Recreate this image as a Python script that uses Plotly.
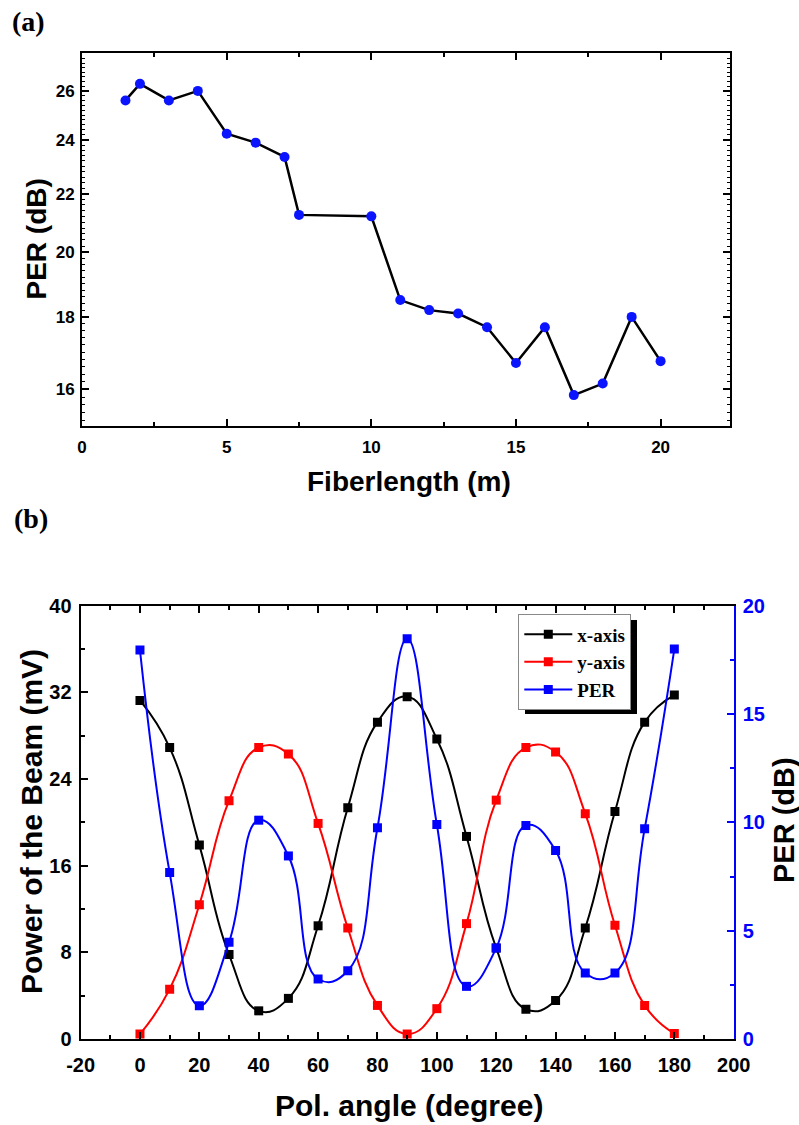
import numpy as np
import plotly.graph_objects as go

# ---------------- data ----------------
fiber_len = [1.5, 2, 3, 4, 5, 6, 7, 7.5, 10, 11, 12, 13, 14, 15, 16, 17, 18, 19, 20]
per_fiber = [25.6, 26.3, 25.6, 26.0, 24.25, 23.9, 23.35, 21.25, 21.2, 18.5, 18.2,
             18.1, 17.7, 16.7, 17.7, 15.85, 16.15, 18.0, 16.75]

pol_angle = [0, 10, 20, 30, 40, 50, 60, 70, 80, 90, 100, 110, 120, 130, 140, 150, 160, 170, 180]
x_axis_mv = [31.25, 26.9, 17.9, 7.8, 2.6, 3.75, 10.45, 21.35, 29.25, 31.6, 27.7, 18.7,
             8.4, 2.75, 3.55, 10.25, 21.0, 29.25, 31.75]
y_axis_mv = [0.46, 4.6, 12.4, 22.0, 26.9, 26.3, 19.9, 10.25, 3.1, 0.46, 2.8, 10.65,
             22.05, 26.9, 26.5, 20.8, 10.5, 3.1, 0.5]
per_angle = [17.95, 7.68, 1.54, 4.46, 10.1, 8.45, 2.77, 3.15, 9.75, 18.47, 9.9, 2.43,
             4.2, 9.86, 8.7, 3.05, 3.05, 9.7, 18.0]

a_yticks = [16, 18, 20, 22, 24, 26]
a_xticks = [0, 5, 10, 15, 20]
b_xticks = [-20, 0, 20, 40, 60, 80, 100, 120, 140, 160, 180, 200]

# ---------------- layout helpers ----------------
W, H = 799, 1125
def px_x(p):
    return p / W
def px_y(p):
    return 1 - p / H

SANS = "Liberation Sans, Arial, sans-serif"
SERIF = "Liberation Serif, Times New Roman, serif"

fig = go.Figure()

# panel (a)
fig.add_trace(go.Scatter(
    x=fiber_len, y=per_fiber, mode="lines+markers",
    line=dict(color="black", width=2.5),
    marker=dict(color="#0a14ff", size=10, symbol="circle"),
    xaxis="x", yaxis="y", showlegend=False))

# panel (b)
fig.add_trace(go.Scatter(
    x=pol_angle, y=x_axis_mv, name="x-axis", mode="lines+markers",
    line=dict(color="black", width=2, shape="spline", smoothing=1.3),
    marker=dict(color="black", size=9, symbol="square"),
    xaxis="x2", yaxis="y2"))
fig.add_trace(go.Scatter(
    x=pol_angle, y=y_axis_mv, name="y-axis", mode="lines+markers",
    line=dict(color="red", width=2, shape="spline", smoothing=1.3),
    marker=dict(color="red", size=9, symbol="square"),
    xaxis="x2", yaxis="y2"))
fig.add_trace(go.Scatter(
    x=pol_angle, y=per_angle, name="PER", mode="lines+markers",
    line=dict(color="blue", width=2, shape="spline", smoothing=1.3),
    marker=dict(color="blue", size=9, symbol="square"),
    xaxis="x2", yaxis="y3"))

tick_a = dict(family=SANS, size=17, color="black", weight="bold")
tick_b = dict(family=SANS, size=20, color="black", weight="bold")

common = dict(showgrid=False, zeroline=False, showline=True, linewidth=2,
              linecolor="black", ticks="inside", tickwidth=2, tickcolor="black",
              automargin=False)

def ann(text, x, y, size, family=SANS, angle=0):
    return dict(text=text, x=px_x(x), y=px_y(y), xref="paper", yref="paper",
                xanchor="center", yanchor="middle", textangle=angle, showarrow=False,
                font=dict(family=family, size=size, color="black", weight="bold"))

fig.update_layout(
    width=W, height=H, margin=dict(l=0, r=0, t=0, b=0),
    paper_bgcolor="white", plot_bgcolor="white",
    xaxis=dict(**common, domain=[px_x(82.1), px_x(730)], range=[0, 22.4], anchor="y",
               tickvals=a_xticks, ticklen=7, mirror="ticks", tickfont=tick_a,
               ticklabelstandoff=5,
               minor=dict(tickvals=[2.5, 7.5, 12.5, 17.5, 22.5], ticks="inside",
                          ticklen=4, tickwidth=1.5, tickcolor="black")),
    yaxis=dict(**common, type="log", domain=[px_y(425.7), px_y(53.3)],
               range=[np.log10(15.08), np.log10(27.64)], anchor="x",
               tickvals=a_yticks, ticktext=[str(v) for v in a_yticks],
               ticklen=7, mirror="ticks", tickfont=tick_a, ticklabelstandoff=2,
               minor=dict(tickvals=list(np.round(np.arange(15.2, 27.61, 0.2), 2)),
                          ticks="inside", ticklen=3, tickwidth=1, tickcolor="black")),
    xaxis2=dict(**common, domain=[px_x(80.6), px_x(733.7)], range=[-20, 200], anchor="y2",
                tickvals=b_xticks, ticktext=[str(v) for v in b_xticks],
                ticklen=7, mirror="ticks", tickfont=tick_b, ticklabelstandoff=7,
                minor=dict(dtick=10, tick0=0, ticks="inside", ticklen=4, tickwidth=1.5,
                           tickcolor="black")),
    yaxis2=dict(**common, domain=[px_y(1039), px_y(605.7)], range=[0, 40], anchor="x2",
                tick0=0, dtick=8, ticklen=7, tickfont=tick_b, ticklabelstandoff=3,
                minor=dict(dtick=4, ticks="inside", ticklen=4, tickwidth=1.5,
                           tickcolor="black")),
    yaxis3=dict(showgrid=False, zeroline=False, showline=True, linewidth=2,
                linecolor="blue", ticks="inside", tickwidth=2, tickcolor="blue",
                automargin=False, overlaying="y2", side="right", anchor="x2",
                range=[0, 20], tick0=0, dtick=5, ticklen=7, ticklabelstandoff=3,
                tickfont=dict(family=SANS, size=20, color="blue", weight="bold"),
                minor=dict(dtick=2.5, ticks="inside", ticklen=4, tickwidth=1.5,
                           tickcolor="blue")),
    legend=dict(x=px_x(518.3), y=px_y(614.3), xanchor="left", yanchor="top",
                bgcolor="white", bordercolor="#888888", borderwidth=1,
                font=dict(family=SERIF, size=19, color="black", weight="bold"),
                tracegroupgap=0, itemwidth=48),
    shapes=[dict(type="rect", xref="paper", yref="paper",
                 x0=px_x(525), x1=px_x(637), y0=px_y(714), y1=px_y(620),
                 fillcolor="black", line=dict(width=0), layer="above")],
    annotations=[
        ann("(a)", 28, 21, 28, SERIF),
        ann("(b)", 31, 518, 28, SERIF),
        ann("PER (dB)", 36, 239.5, 28, angle=-90),
        ann("Fiberlength (m)", 409, 481, 28),
        ann("Power of the Beam (mV)", 31, 822, 30, angle=-90),
        ann("Pol. angle (degree)", 409, 1105, 30),
        ann("PER (dB)", 784, 820, 29, angle=-90),
    ],
)

fig.write_html("out.html", config={"displayModeBar": False},
               post_script="document.body.style.margin='0px';document.body.style.overflow='hidden';")
